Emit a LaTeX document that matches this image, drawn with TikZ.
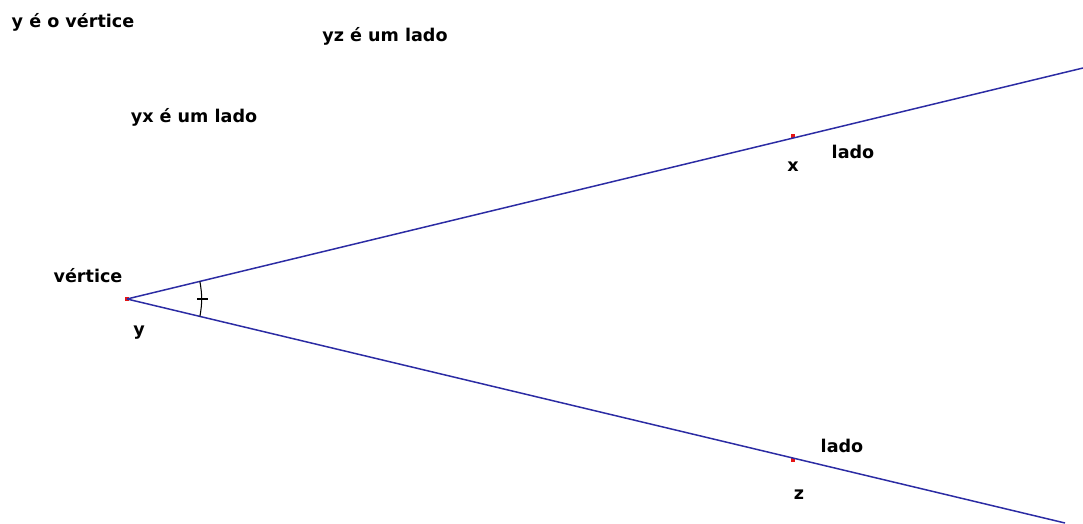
\documentclass[tikz,border=0pt]{standalone}
\usepackage{fontspec}
\setsansfont{DejaVu Sans}
\usetikzlibrary{calc}
\definecolor{sideblue}{RGB}{44,44,164}
\definecolor{ptred}{RGB}{230,20,20}
\tikzset{
  side/.style={sideblue, line width=0.85pt},
  pt/.style={rectangle, fill=ptred, inner sep=0pt, minimum size=2.3pt},
  lbl/.style={font=\sffamily\bfseries\fontsize{10}{12}\selectfont, inner sep=0pt},
  angmark/.style={black, line width=0.6pt},
}
\begin{document}
\begin{tikzpicture}[x=0.02cm,y=-0.02cm]
  \useasboundingbox (0,0) rectangle (1083,524);
  \node[pt] (vy) at (127,299) {};
  \node[pt] (px) at (793,136) {};
  \node[pt] (pz) at (793,460) {};
  \coordinate (endx) at (1083,68);
  \coordinate (endz) at (1065,523);
  \draw[side] (vy.center) -- (endx);
  \draw[side] (vy.center) -- (endz);
  \coordinate (ma) at ($(vy.center)!1.5cm!(endx)$);
  \coordinate (mb) at ($(vy.center)!1.5cm!(endz)$);
  \coordinate (mc) at ($(vy.center)+(75,0)$);
  \draw[angmark] (ma) to[bend left=10] (mb);
  \draw[angmark] (mc) +(-5,0) -- +(6,0);
  \node[lbl] (t1) at (73,22) {y é o vértice};
  \node[lbl] (t2) at (385,36) {yz é um lado};
  \node[lbl] (t3) at (194,117) {yx é um lado};
  \node[lbl] (lv) at (88,276) {vértice};
  \node[lbl] (ly) at (139,333) {y};
  \node[lbl] (lx) at (793,167) {x};
  \node[lbl] (ladox) at (853,152) {lado};
  \node[lbl] (ladoz) at (842,446) {lado};
  \node[lbl] (lz) at (799,495) {z};
\end{tikzpicture}
\end{document}
